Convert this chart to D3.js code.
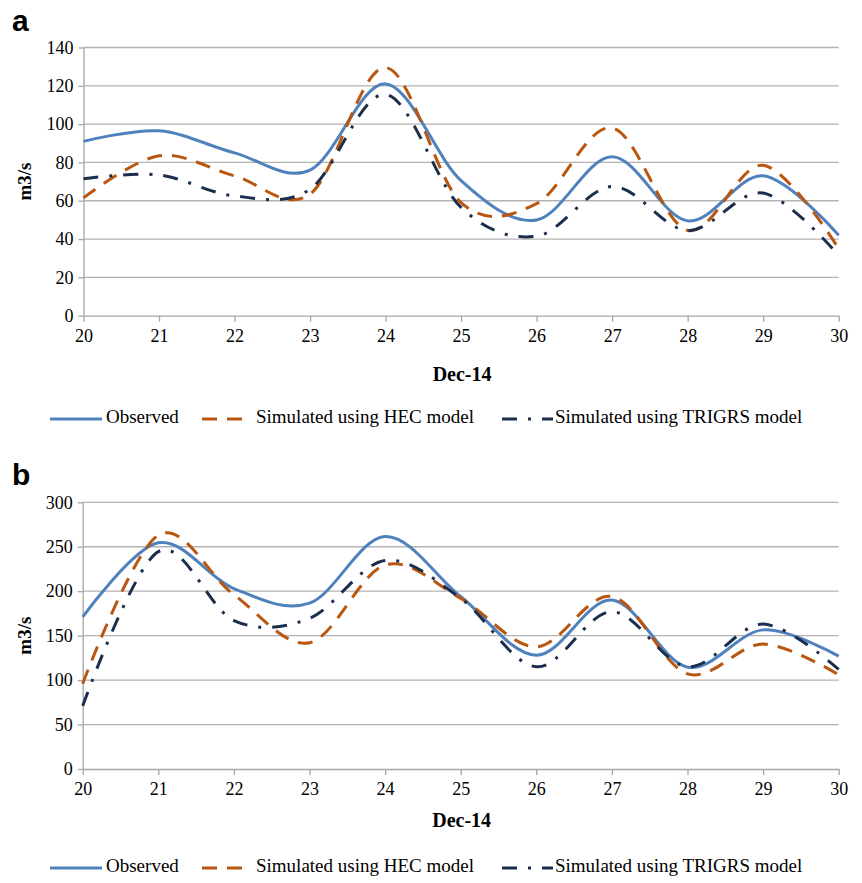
<!DOCTYPE html>
<html>
<head>
<meta charset="utf-8">
<script src="https://cdn.jsdelivr.net/npm/d3@7"></script>
<style>
  body { margin: 0; background: #fff; }
  svg { display: block; }
</style>
</head>
<body>
<div id="chart"></div>
<script>
// days of Dec-14
const days = [20, 21, 22, 23, 24, 25, 26, 27, 28, 29, 30];

// panel a
const observedA = [91, 96.5, 85, 76, 121, 70.5, 50, 83, 49.5, 73, 42];
const hecA      = [61.5, 83.5, 73, 63.5, 129.5, 59, 58.5, 98, 44.5, 78.5, 35];
const trigrsA   = [71.5, 73.5, 62.5, 66, 115.5, 56.5, 41.5, 67.5, 44.5, 64, 31.5];
const ticksA    = [0, 20, 40, 60, 80, 100, 120, 140];

// panel b
const observedB = [171, 254.5, 203, 186.5, 261.5, 194, 128, 190, 114.5, 156.5, 127];
const hecB      = [96, 263, 196, 142, 229.5, 192, 137.5, 194, 107, 140.5, 106];
const trigrsB   = [71, 244.5, 167, 169.5, 234.5, 192, 115, 177, 115, 163, 112];
const ticksB    = [0, 50, 100, 150, 200, 250, 300];

const seriesNames = ['Observed', 'Simulated using HEC model', 'Simulated using TRIGRS model'];

const styles = [
    { color: '#4f81bd', dash: null },
    { color: '#b9560f', dash: '15,10' },
    { color: '#1b2f4d', dash: '15,11,3,11' }
];

const W = 862, H = 883;
const svg = d3.select('#chart').append('svg')
    .attr('width', W)
    .attr('height', H);

const serif = '"Liberation Serif", "Times New Roman", serif';

function drawPanel(opts) {
    const { top, bottom, left, right, max, ticks, series, letter, tickY, titleY, legendY } = opts;

    const x = d3.scaleLinear().domain([20, 30]).range([left, right]);
    const y = d3.scaleLinear().domain([0, max]).range([bottom, top]);

    const g = svg.append('g');

    // gridlines
    g.selectAll('line.grid')
        .data(ticks.filter(t => t > 0))
        .enter()
        .append('line')
        .attr('x1', left)
        .attr('x2', right)
        .attr('y1', d => y(d))
        .attr('y2', d => y(d))
        .attr('stroke', '#b3b3b3')
        .attr('stroke-width', 1.3);

    // y axis
    const yAxis = g.append('g')
        .attr('transform', `translate(${left},0)`)
        .call(d3.axisLeft(y).tickValues(ticks).tickSize(5).tickSizeOuter(0));
    yAxis.select('.domain').attr('stroke', '#a6a6a6').attr('stroke-width', 1.3);
    yAxis.selectAll('.tick line').attr('stroke', '#a6a6a6').attr('stroke-width', 1.3);
    yAxis.selectAll('.tick text')
        .attr('x', -10)
        .style('font-family', serif)
        .style('font-size', '18px')
        .attr('fill', '#000');

    // x axis
    const xAxis = g.append('g')
        .attr('transform', `translate(0,${bottom})`)
        .call(d3.axisBottom(x).tickValues(days).tickSize(6).tickSizeOuter(0).tickFormat(d3.format('d')));
    xAxis.select('.domain').attr('stroke', '#a6a6a6').attr('stroke-width', 1.3);
    xAxis.selectAll('.tick line').attr('stroke', '#a6a6a6').attr('stroke-width', 1.3);
    xAxis.selectAll('.tick text')
        .attr('y', 0)
        .attr('dy', null)
        .attr('transform', `translate(0,${tickY - bottom})`)
        .attr('dominant-baseline', 'middle')
        .style('font-family', serif)
        .style('font-size', '18px')
        .attr('fill', '#000');

    // lines
    const line = d3.line()
        .x((d, i) => x(days[i]))
        .y(d => y(d))
        .curve(d3.curveCardinal.tension(0));

    series.forEach((vals, i) => {
        g.append('path')
            .datum(vals)
            .attr('d', line)
            .attr('fill', 'none')
            .attr('stroke', styles[i].color)
            .attr('stroke-width', 3)
            .attr('stroke-dasharray', styles[i].dash);
    });

    // y label
    g.append('text')
        .attr('transform', `translate(31,${(top + bottom) / 2}) rotate(-90)`)
        .attr('text-anchor', 'middle')
        .style('font-family', serif)
        .style('font-size', '19px')
        .style('font-weight', 'bold')
        .text('m3/s');

    // x label
    g.append('text')
        .attr('x', (left + right) / 2 + 1)
        .attr('y', titleY)
        .attr('text-anchor', 'middle')
        .attr('dominant-baseline', 'middle')
        .style('font-family', serif)
        .style('font-size', '20px')
        .style('font-weight', 'bold')
        .text('Dec-14');

    // panel letter
    g.append('text')
        .attr('x', 12)
        .attr('y', top - 17)
        .style('font-family', '"Liberation Sans", Arial, sans-serif')
        .style('font-size', '30px')
        .style('font-weight', 'bold')
        .text(letter);

    // legend
    const legendItems = [
        { x1: 50, x2: 102, tx: 106 },
        { x1: 202, x2: 242, tx: 256 },
        { x1: 502, x2: 553, tx: 555 }
    ];
    legendItems.forEach((it, i) => {
        g.append('line')
            .attr('x1', it.x1)
            .attr('x2', it.x2)
            .attr('y1', legendY)
            .attr('y2', legendY)
            .attr('stroke', styles[i].color)
            .attr('stroke-width', 3)
            .attr('stroke-dasharray', styles[i].dash);
        g.append('text')
            .attr('x', it.tx)
            .attr('y', legendY)
            .attr('dominant-baseline', 'middle')
            .style('font-family', serif)
            .style('font-size', '19px')
            .text(seriesNames[i]);
    });
}

drawPanel({
    top: 47.5, bottom: 315.7, left: 83.5, right: 838.7,
    max: 140, ticks: ticksA,
    series: [observedA, hecA, trigrsA],
    letter: 'a', tickY: 338, titleY: 376, legendY: 419
});

drawPanel({
    top: 502.3, bottom: 769, left: 82.7, right: 838.7,
    max: 300, ticks: ticksB,
    series: [observedB, hecB, trigrsB],
    letter: 'b', tickY: 791, titleY: 822, legendY: 868
});
</script>
</body>
</html>
